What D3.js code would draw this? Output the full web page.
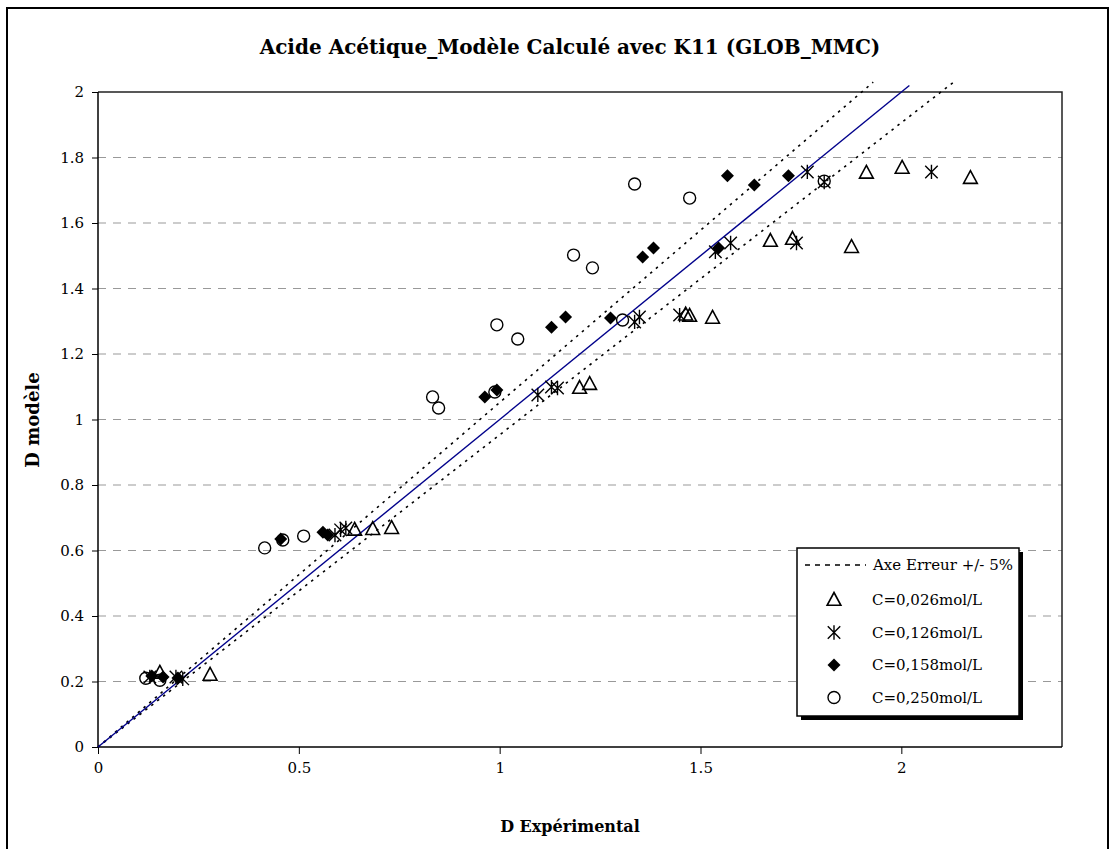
<!DOCTYPE html>
<html><head><meta charset="utf-8">
<script src="https://cdn.jsdelivr.net/npm/d3@7"></script>
<style>body{margin:0;background:#fff}text{font-family:"DejaVu Serif",serif}</style>
</head><body><svg id="c" width="1110" height="849"></svg>
<script>
const titleText = "Acide Acétique_Modèle Calculé avec K11 (GLOB_MMC)";
const xLabel = "D Expérimental";
const yLabel = "D modèle";
const xTicks = [0, 0.5, 1, 1.5, 2];
const yTicks = [0, 0.2, 0.4, 0.6, 0.8, 1, 1.2, 1.4, 1.6, 1.8, 2];
const legendLabels = ["Axe Erreur +/- 5%", "C=0,026mol/L", "C=0,126mol/L", "C=0,158mol/L", "C=0,250mol/L"];

// reference lines
const idealX = [0, 2.02], idealY = [0, 2.02];
const upperX = [0, 1.93], upperY = [0, 2.03];
const lowerX = [0, 2.13], lowerY = [0, 2.03];

// C=0,026 (triangles)
const c026X = [0.154, 0.279, 0.639, 0.684, 0.731, 1.199, 1.224, 1.463, 1.473, 1.530, 1.674, 1.729, 1.876, 1.913, 2.002, 2.172];
const c026Y = [0.226, 0.220, 0.663, 0.665, 0.668, 1.096, 1.108, 1.320, 1.316, 1.310, 1.545, 1.551, 1.526, 1.753, 1.768, 1.737];
// C=0,126 (asterisks)
const c126X = [0.129, 0.194, 0.211, 0.590, 0.604, 0.617, 1.095, 1.129, 1.144, 1.336, 1.348, 1.448, 1.537, 1.575, 1.739, 1.766, 1.808, 2.075];
const c126Y = [0.214, 0.214, 0.208, 0.647, 0.663, 0.669, 1.075, 1.099, 1.096, 1.298, 1.313, 1.319, 1.512, 1.539, 1.539, 1.756, 1.725, 1.756];
// C=0,158 (diamonds)
const c158X = [0.134, 0.162, 0.199, 0.455, 0.560, 0.572, 0.963, 0.993, 1.129, 1.164, 1.276, 1.356, 1.383, 1.545, 1.567, 1.634, 1.719];
const c158Y = [0.217, 0.214, 0.211, 0.635, 0.656, 0.647, 1.069, 1.090, 1.282, 1.313, 1.310, 1.496, 1.524, 1.524, 1.744, 1.716, 1.744];
// C=0,250 (circles)
const c250X = [0.119, 0.154, 0.415, 0.460, 0.512, 0.833, 0.848, 0.988, 0.993, 1.045, 1.184, 1.231, 1.306, 1.336, 1.473, 1.808];
const c250Y = [0.210, 0.204, 0.608, 0.632, 0.644, 1.069, 1.035, 1.084, 1.289, 1.246, 1.502, 1.463, 1.304, 1.719, 1.676, 1.728];

const svg = d3.select("#c");
const L = 98, R = 1062, T = 92, B = 747;
const x = d3.scaleLinear().domain([0, 2.4]).range([L, R]);
const y = d3.scaleLinear().domain([0, 2]).range([B, T]);

// outer border
svg.append("rect").attr("x", 7).attr("y", 8).attr("width", 1101).attr("height", 860)
  .attr("fill", "#fff").attr("stroke", "#000").attr("stroke-width", 2);

// title
svg.append("text").attr("x", 570).attr("y", 54).attr("text-anchor", "middle")
  .attr("font-size", 20).attr("font-weight", "bold").text(titleText);

// gridlines
svg.append("g").selectAll("line").data(yTicks.filter(v => v > 0 && v < 2)).join("line")
  .attr("x1", L).attr("x2", R).attr("y1", d => y(d)).attr("y2", d => y(d))
  .attr("stroke", "#999").attr("stroke-width", 1.2).attr("stroke-dasharray", "8,7");

// plot border (top/right)
svg.append("path").attr("d", `M${L},${T}H${R}V${B}`).attr("fill", "none").attr("stroke", "#222").attr("stroke-width", 1.5);

// axes
const fmt = d => String(+d.toFixed(2));
const gx = svg.append("g").attr("transform", `translate(0,${B})`)
  .call(d3.axisBottom(x).tickValues(xTicks).tickFormat(fmt).tickSize(7).tickPadding(8));
const gy = svg.append("g").attr("transform", `translate(${L},0)`)
  .call(d3.axisLeft(y).tickValues(yTicks).tickFormat(fmt).tickSize(6).tickPadding(8));
[gx, gy].forEach(g => {
  g.select(".domain").attr("stroke", "#000").attr("stroke-width", 1.5);
  g.selectAll(".tick line").attr("stroke", "#000").attr("stroke-width", 1);
  g.selectAll("text").attr("font-size", 15).attr("font-family", "DejaVu Serif").attr("fill", "#000");
});
gx.select(".domain").attr("d", `M${L},0H${R}`);
gy.select(".domain").attr("d", `M0,${B}V${T}`);

// axis labels
svg.append("text").attr("x", 570).attr("y", 832).attr("text-anchor", "middle")
  .attr("font-size", 16).attr("font-weight", "bold").text(xLabel);
svg.append("text").attr("transform", "translate(39,420) rotate(-90)").attr("text-anchor", "middle")
  .attr("font-size", 18).attr("font-weight", "bold").text(yLabel);

// lines
const line = d3.line().x(d => x(d[0])).y(d => y(d[1]));
const zip = (a, b) => a.map((v, i) => [v, b[i]]);
svg.append("path").attr("d", line(zip(upperX, upperY))).attr("fill", "none").attr("stroke", "#000").attr("stroke-width", 1.6).attr("stroke-dasharray", "2.5,5");
svg.append("path").attr("d", line(zip(lowerX, lowerY))).attr("fill", "none").attr("stroke", "#000").attr("stroke-width", 1.6).attr("stroke-dasharray", "2.5,5");
svg.append("path").attr("d", line(zip(idealX, idealY))).attr("fill", "none").attr("stroke", "#00008b").attr("stroke-width", 1.4);

// markers
function triPath(s) { return `M0,${-s*0.6}L${s*0.55},${s*0.42}L${-s*0.55},${s*0.42}Z`; }
function starPath(s) { const a = s*0.48; return `M${-a},${-a}L${a},${a}M${-a},${a}L${a},${-a}M0,${-s*0.55}V${s*0.55}`; }
function diaPath(s) { const a = s*0.5; return `M0,${-a}L${a},0L0,${a}L${-a},0Z`; }
function drawMarker(g, type) {
  if (type === "tri") g.append("path").attr("d", triPath(12.5)).attr("fill", "none").attr("stroke", "#000").attr("stroke-width", 1.6);
  else if (type === "star") g.append("path").attr("d", starPath(13)).attr("fill", "none").attr("stroke", "#000").attr("stroke-width", 1.4);
  else if (type === "dia") g.append("path").attr("d", diaPath(13)).attr("fill", "#000");
  else g.append("circle").attr("r", 6).attr("fill", "none").attr("stroke", "#000").attr("stroke-width", 1.4);
}
const series = [[c026X, c026Y, "tri"], [c126X, c126Y, "star"], [c158X, c158Y, "dia"], [c250X, c250Y, "circ"]];
series.forEach(([xs, ys, t]) => {
  const g = svg.append("g");
  zip(xs, ys).forEach(p => {
    const m = g.append("g").attr("transform", `translate(${x(p[0])},${y(p[1])})`);
    drawMarker(m, t);
  });
});

// legend
const lg = svg.append("g");
lg.append("rect").attr("x", 801).attr("y", 552).attr("width", 222).attr("height", 168).attr("fill", "#000");
lg.append("rect").attr("x", 797).attr("y", 548).attr("width", 222).attr("height", 168).attr("fill", "#fff").attr("stroke", "#000").attr("stroke-width", 1.5);
lg.append("line").attr("x1", 805).attr("x2", 866).attr("y1", 565).attr("y2", 565).attr("stroke", "#000").attr("stroke-width", 1.6).attr("stroke-dasharray", "5,5");
lg.append("text").attr("x", 873).attr("y", 570).attr("font-size", 15).text(legendLabels[0]);
const types = ["tri", "star", "dia", "circ"];
types.forEach((t, i) => {
  const yy = 600 + i * 32.5;
  drawMarker(lg.append("g").attr("transform", `translate(834,${yy})`), t);
  lg.append("text").attr("x", 872).attr("y", yy + 5).attr("font-size", 15).text(legendLabels[i + 1]);
});
</script></body></html>
